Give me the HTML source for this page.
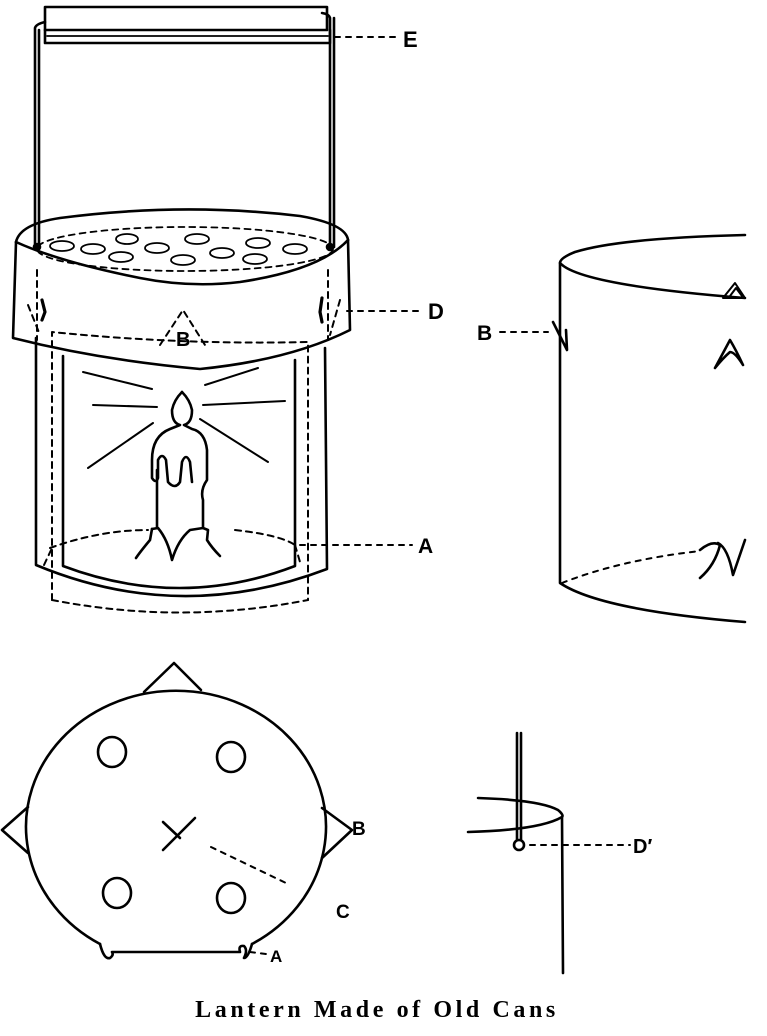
<!DOCTYPE html>
<html><head><meta charset="utf-8"><style>
html,body{margin:0;padding:0;background:#fff;}
svg{display:block;}
text{font-family:"Liberation Sans",sans-serif;font-weight:bold;fill:#000;}
</style></head><body>
<svg width="767" height="1036" viewBox="0 0 767 1036" xmlns="http://www.w3.org/2000/svg">
<g fill="none" stroke="#000" stroke-width="2.6" stroke-linecap="round" stroke-linejoin="round">
<!-- Lantern lid -->
<rect x="45" y="7" width="282" height="23"/>
<path d="M45 30 L45 43 L330 43 L330 30"/>
<line x1="47" y1="36" x2="328" y2="36" stroke-width="1.8"/>
<!-- handle wires -->
<path d="M35 247 L35 28 Q36 24 45 22" />
<path d="M39 247 L39 30"/>
<path d="M330 247 L330 18 Q329 14 322 13"/>
<path d="M334 247 L334 18"/>
<!-- band -->
<path d="M16 242 Q20 224 60 218 Q182 202 300 216 Q346 224 348 240"/>
<path d="M16 242 Q60 262 140 278 Q190 288 240 282 Q320 270 348 240"/>
<path d="M16 242 L13 338 Q100 360 200 369 Q290 360 350 330 L348 240"/>
<ellipse cx="185" cy="249" rx="148" ry="22" stroke-dasharray="6 5" stroke-width="1.8"/>
<g stroke-width="1.8">
<ellipse cx="62" cy="246" rx="12" ry="5"/><ellipse cx="93" cy="249" rx="12" ry="5"/>
<ellipse cx="127" cy="239" rx="11" ry="5"/><ellipse cx="121" cy="257" rx="12" ry="5"/>
<ellipse cx="157" cy="248" rx="12" ry="5"/><ellipse cx="183" cy="260" rx="12" ry="5"/>
<ellipse cx="197" cy="239" rx="12" ry="5"/><ellipse cx="222" cy="253" rx="12" ry="5"/>
<ellipse cx="258" cy="243" rx="12" ry="5"/><ellipse cx="255" cy="259" rx="12" ry="5"/>
<ellipse cx="295" cy="249" rx="12" ry="5"/>
</g>
<circle cx="37" cy="247" r="3" fill="#000"/><circle cx="330" cy="247" r="3" fill="#000"/>
<g stroke-dasharray="6 5" stroke-width="2">
<line x1="37" y1="270" x2="37" y2="340"/><line x1="328" y1="270" x2="328" y2="340"/>
<path d="M28 305 L40 335"/><path d="M340 300 L330 335"/>
<path d="M52 600 L52 332 Q180 345 308 342 L308 600"/>
<path d="M52 600 Q180 625 308 600" />
<path d="M160 345 L183 310 L205 345"/>
<path d="M50 548 Q100 530 148 530 M235 530 Q280 535 295 545"/>
<path d="M295 545 L300 562"/><path d="M44 565 L52 548"/>
</g>
<path d="M42 300 L45 312 L42 320" stroke-width="3.2"/>
<path d="M322 298 L320 312 L322 322" stroke-width="3.2"/>
<!-- lower can -->
<path d="M36 338 L36 565 Q180 625 327 569 L325 348"/>
<path d="M63 356 L63 566 Q180 610 295 566 L295 360"/>
<!-- candle -->
<path d="M182 392 Q190 400 192 410 Q192 423 184 425 L192 429 Q205 432 207 450 L207 480 Q200 490 203 500 L203 528"/>
<path d="M182 392 Q174 400 172 410 Q172 423 180 425 L170 429 Q152 436 152 460 L152 478 Q156 484 158 478 L158 460 Q162 452 166 460 L168 482 Q175 490 180 482 L182 462 Q186 452 190 462 L192 482"/>
<path d="M157 470 L157 528"/>
<path d="M152 529 L158 528 Q168 540 172 560 Q178 540 190 530 L203 528 L208 530 L207 540 Q212 548 220 556"/>
<path d="M152 529 L150 540 Q140 552 136 558"/>
<g stroke-width="2">
<line x1="83" y1="372" x2="152" y2="389"/><line x1="205" y1="385" x2="258" y2="368"/>
<line x1="93" y1="405" x2="157" y2="407"/><line x1="203" y1="405" x2="285" y2="401"/>
<line x1="88" y1="468" x2="153" y2="423"/><line x1="200" y1="419" x2="268" y2="462"/>
</g>
<!-- leaders -->
<g stroke-dasharray="5 6" stroke-width="2">
<line x1="335" y1="37" x2="400" y2="37"/>
<line x1="347" y1="311" x2="422" y2="311"/>
<line x1="300" y1="545" x2="412" y2="545"/>
<line x1="500" y1="332" x2="548" y2="332"/>
<line x1="530" y1="845" x2="630" y2="845"/>
<line x1="211" y1="847" x2="286" y2="883"/>
<line x1="250" y1="952" x2="266" y2="954"/>
<path d="M562 583 Q620 560 700 551"/>
</g>
<!-- right cylinder -->
<path d="M745 235 Q620 238 575 252 Q560 258 560 263 Q580 285 745 298"/>
<path d="M560 263 L560 583 Q600 610 745 622"/>
<path d="M553 322 L567 350 L566 330"/>
<path d="M723 298 L735 283 L745 298 Z M730 296 L736 288 L742 296" stroke-width="2"/>
<path d="M715 368 L730 340 Q736 350 743 365 Q735 352 730 352 Q723 358 715 368"/>
<path d="M700 550 Q712 540 720 545 Q715 565 700 578 M718 543 Q728 548 733 575 L745 540"/>
<!-- bottom plate -->
<path d="M100 944 A150 136 0 1 1 252 944"/>
<path d="M100 944 Q104 960 110 958 Q114 955 112 952 L240 952 Q238 945 244 946 Q248 950 244 958 Q248 958 252 944"/>
<path d="M144 692 L174 663 L201 690"/>
<path d="M28 807 L2 830 L28 853"/>
<path d="M322 808 L352 830 L322 858"/>
<ellipse cx="112" cy="752" rx="14" ry="15"/><ellipse cx="231" cy="757" rx="14" ry="15"/>
<ellipse cx="117" cy="893" rx="14" ry="15"/><ellipse cx="231" cy="898" rx="14" ry="15"/>
<line x1="163" y1="850" x2="195" y2="818"/><line x1="163" y1="822" x2="180" y2="838"/>
<!-- rod detail -->
<line x1="517" y1="733" x2="517" y2="840"/><line x1="521" y1="733" x2="521" y2="840"/>
<circle cx="519" cy="845" r="5"/>
<path d="M478 798 Q540 800 558 810 Q564 815 562 817 Q540 830 468 832"/>
<path d="M562 817 L563 973"/>
</g>
<text x="428" y="319" font-size="22">D</text>
<text x="176" y="346" font-size="20">B</text>
<text x="418" y="553" font-size="21">A</text>
<text x="477" y="340" font-size="21">B</text>
<text x="352" y="835" font-size="19">B</text>
<text x="336" y="918" font-size="19">C</text>
<text x="270" y="962" font-size="17">A</text>
<text x="633" y="853" font-size="20">D′</text>
<text x="403" y="47" font-size="22">E</text>
<text x="377" y="1017" text-anchor="middle" font-size="24" letter-spacing="3.6" style="font-family:'Liberation Serif',serif;">Lantern Made of Old Cans</text>
</svg>
</body></html>
